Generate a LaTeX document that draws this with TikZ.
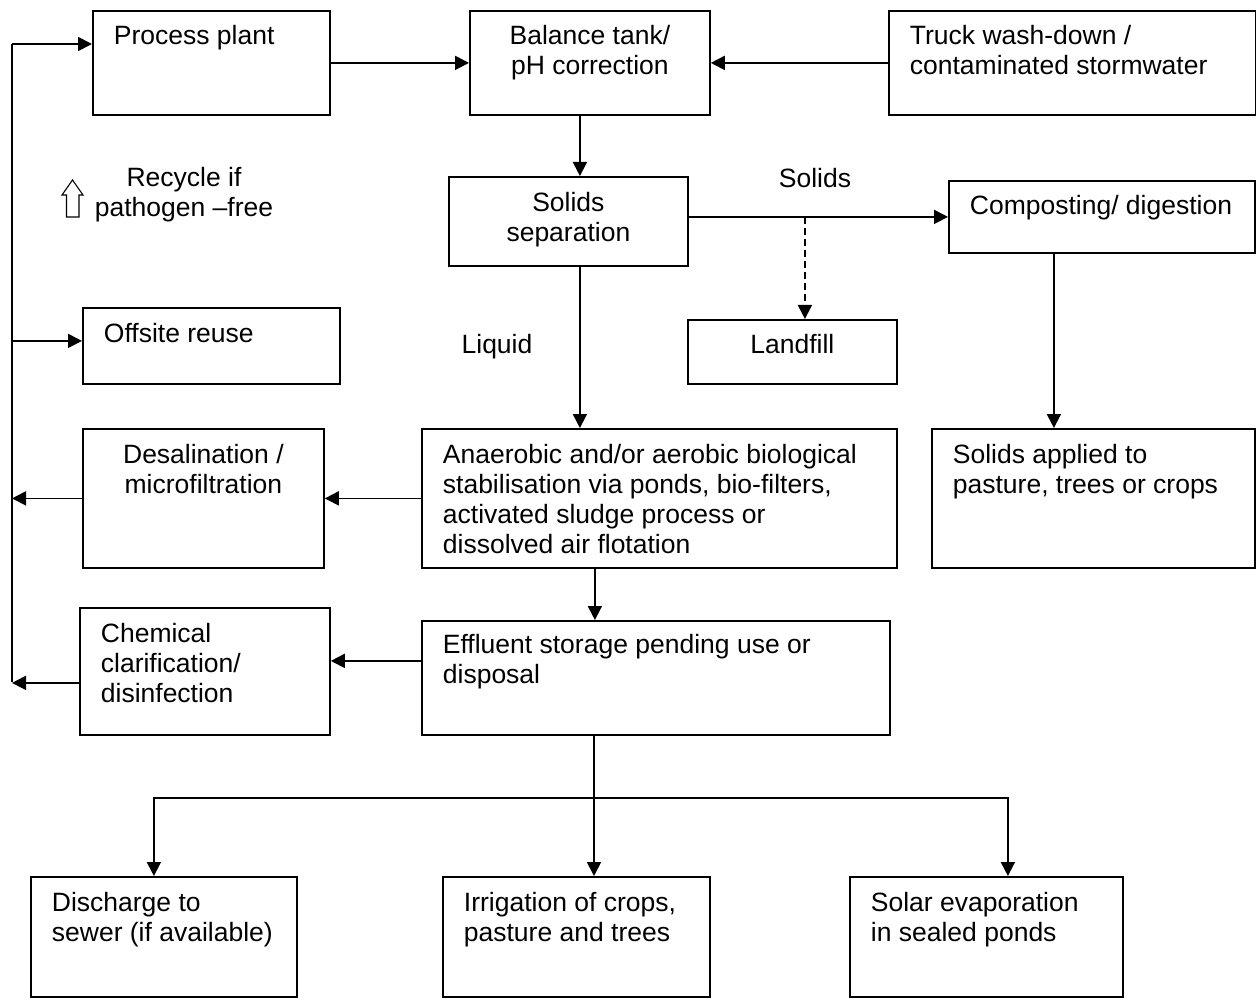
\documentclass[tikz,border=0pt]{standalone}
\usepackage{fontspec}
\setmainfont{Liberation Sans}
\usetikzlibrary{arrows.meta}
\definecolor{line_black}{RGB}{0,0,0}

\begin{document}
\begin{tikzpicture}[x=1pt,y=-1pt,line width=1.8pt,>={Triangle[length=14pt,width=14pt]},font=\fontsize{26.5}{30}\selectfont]
    \tikzstyle{box}=[draw=line_black, rectangle, anchor=north west, inner sep=0pt, fill=none]
    \tikzset{lt/.style={anchor=base west, xshift=21pt, yshift=-5-30*#1, align=left, inner sep=0pt}, lt/.default=1}
    \tikzset{ct/.style={anchor=base, yshift=-5-30*#1, align=center, inner sep=0pt}, ct/.default=1}
    \tikzstyle{note}=[anchor=base, inner sep=0pt, align=center]
    \useasboundingbox (0,0) rectangle (1256,1000);

    \node[box, minimum width=237, minimum height=104, label={[lt]north west:Process plant}] (plant) at (92,10) {};
    \node[box, minimum width=240, minimum height=104, label={[ct=2]north:{Balance tank/\\pH correction}}] (bal) at (469,10) {};
    \node[box, minimum width=367, minimum height=104, label={[lt=2]north west:{Truck wash-down /\\contaminated stormwater}}] (truck) at (888,10) {};
    \node[box, minimum width=239, minimum height=89, label={[ct=2, yshift=-1pt]north:{Solids\\separation}}] (sep) at (448,176) {};
    \node[box, minimum width=306, minimum height=72, label={[lt]north west:Composting/ digestion}] (comp) at (948,180) {};
    \node[box, minimum width=209, minimum height=64, label={[ct]north:Landfill}] (landfill) at (687,319) {};
    \node[box, minimum width=257, minimum height=76, label={[lt]north west:Offsite reuse}] (offsite) at (82,307) {};
    \node[box, minimum width=241, minimum height=139, label={[ct=2]north:{Desalination /\\microfiltration}}] (desal) at (82,428) {};
    \node[box, minimum width=475, minimum height=139, label={[lt=4]north west:{Anaerobic and/or aerobic biological\\stabilisation via ponds, bio-filters,\\activated sludge process or\\dissolved air flotation}}] (bio) at (421,428) {};
    \node[box, minimum width=323, minimum height=139, label={[lt=2]north west:{Solids applied to\\pasture, trees or crops}}] (applied) at (931,428) {};
    \node[box, minimum width=250, minimum height=127, label={[lt=3]north west:{Chemical\\clarification/\\disinfection}}] (chem) at (79,607) {};
    \node[box, minimum width=468, minimum height=114, label={[lt=2, yshift=2pt]north west:{Effluent storage pending use or\\disposal}}] (eff) at (421,620) {};
    \node[box, minimum width=266, minimum height=120, label={[lt=2]north west:{Discharge to\\sewer (if available)}}] (sewer) at (30,876) {};
    \node[box, minimum width=267, minimum height=120, label={[lt=2]north west:{Irrigation of crops,\\pasture and trees}}] (irrig) at (442,876) {};
    \node[box, minimum width=273, minimum height=120, label={[lt=2]north west:{Solar evaporation\\in sealed ponds}}] (solar) at (849,876) {};

    \node[note] (solids) at (815,188) {Solids};
    \node[note] (liquid) at (497,353) {Liquid};
    \node[note] (recycle) at (184,217) {Recycle if\\pathogen --free};
    % hollow up arrow beside the recycle note
    \draw[line width=1.1pt] (62,195) -- (72.5,180) -- (83,195) -- (79,195) -- (79,217) -- (66.5,217) -- (66.5,195) -- cycle;

    \coordinate (bustop) at (12,44);
    \coordinate (busbot) at (12,682);
    \coordinate (fork) at (594,798);

    \path
     (plant) edge[->] (bal)
     (truck) edge[->] (bal)
     ([xshift=-10]bal.south) edge[->] ([xshift=-10]bal.south |- sep.north)
     (sep.east |- comp.west) edge[->] (comp.west)
     ([xshift=12.5]landfill.north |- comp.west) edge[->, dash pattern=on 7pt off 4pt] ([xshift=12.5]landfill.north)
     ([xshift=-48]comp.south) edge[->] ([xshift=-48]comp.south |- applied.north)
     ([xshift=11.5]sep.south) edge[->] ([xshift=11.5]sep.south |- bio.north)
     ([xshift=-64.5]bio.south) edge[->] ([xshift=-64.5]bio.south |- eff.north)
     (bio.west) edge[->] (desal.east)
     ([yshift=17]eff.west) edge[->] ([yshift=17]eff.west -| chem.east)
     (bustop) edge (busbot)
     (bustop) edge[->] (bustop -| plant.west)
     ([yshift=5]offsite.west -| bustop) edge[->] ([yshift=5]offsite.west)
     (desal.west) edge[->] (desal.west -| bustop)
     ([yshift=-11.5]chem.west) edge[->] ([yshift=-11.5]chem.west -| bustop)
     (fork |- eff.south) edge (fork)
     (fork) edge[->, to path={-| (\tikztotarget)}] ([xshift=-10]sewer.north)
     (fork) edge[->] (fork |- irrig.north)
     (fork) edge[->, to path={-| (\tikztotarget)}] ([xshift=21.5]solar.north)
     ;
\end{tikzpicture}
\end{document}
